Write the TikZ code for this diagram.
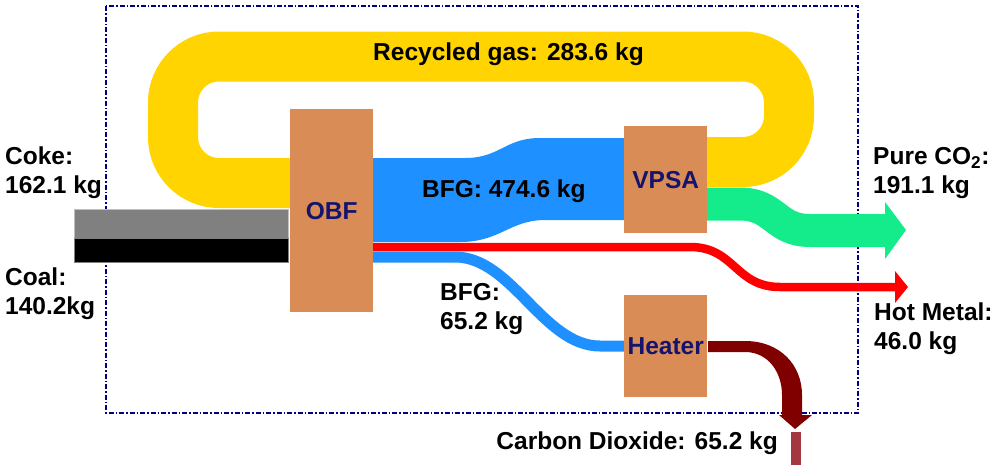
\documentclass[tikz,border=0pt]{standalone}
\usepackage{fontspec}
\setmainfont{Liberation Sans}
\definecolor{boxorange}{RGB}{218,140,86}
\definecolor{boxtext}{RGB}{20,20,110}
\definecolor{gasyellow}{RGB}{255,212,0}
\definecolor{bfgblue}{RGB}{30,144,255}
\definecolor{co2green}{RGB}{20,236,140}
\definecolor{hotred}{RGB}{255,0,0}
\definecolor{fluemaroon}{RGB}{128,0,0}
\definecolor{stubred}{RGB}{165,55,65}
\definecolor{framenavy}{RGB}{0,0,128}

\begin{document}
\begin{tikzpicture}[x=1pt,y=-1pt]
\tikzstyle{every node}+=[inner sep=0pt]
\tikzstyle{unit}=[fill=boxorange, text=boxtext, anchor=north west, font=\fontsize{24.5}{29}\selectfont\bfseries]
\tikzstyle{bar}=[anchor=north west, minimum width=214pt, minimum height=24pt, line width=1pt]
\tikzstyle{flowtext}=[anchor=north west, align=left, font=\fontsize{24.5}{29}\selectfont\bfseries]
\useasboundingbox (0,0) rectangle (1000,469);
% system boundary
\draw [framenavy, line width=1.6pt, dash pattern=on 5pt off 2pt on 1.5pt off 2pt] (106,6) rectangle (858,413);
% recycled gas loop
\draw [gasyellow, line width=50pt, rounded corners=46pt] (290,183) -- (173,183) -- (173,56.5) -- (789,56.5) -- (789,162) -- (707,162);
% BFG to VPSA
\fill [bfgblue] (373,158) -- (465,158) .. controls (500,158) and (505,138) .. (540,138) -- (624,138) -- (624,220) -- (545,220) .. controls (510,220) and (500,242) .. (460,242) -- (373,242) -- cycle;
% pure CO2
\draw [co2green, line width=33pt] (707,204) -- (740,204) .. controls (775,204) and (775,230.5) .. (810,230.5) -- (886,230.5);
\fill [co2green] (885,202) -- (906,230) -- (885,259) -- cycle;
% hot metal
\draw [hotred, line width=8.5pt] (373,247) -- (690,247) .. controls (735,247) and (735,287) .. (780,287) -- (896,287);
\fill [hotred] (895,271) -- (908,287) -- (895,303) -- cycle;
% BFG to heater
\draw [bfgblue, line width=11pt] (373,257) -- (455,257) .. controls (512,257) and (543,346) .. (600,346) -- (625,346);
% carbon dioxide
\fill [fluemaroon] (708,341) -- (745,341) .. controls (780,341) and (802,365) .. (802,395) -- (802,415) -- (812,415) -- (795,429) -- (779,415) -- (782,415) -- (782,395) .. controls (782,372) and (768,352) .. (745,352) -- (708,352) -- cycle;
\fill [stubred] (791,432) rectangle (801,465);
% feeds
\node [bar, fill=gray, draw=lightgray, minimum height=29pt] (cokebar) at (74,209) {};
\node [bar, fill=black, draw=gray] (coalbar) at (74,238) {};
% units
\node [unit, minimum width=83pt, minimum height=203pt] (obf) at (290,109) {OBF};
\node [unit, minimum width=83pt, minimum height=107pt] (vpsa) at (624,126) {VPSA};
\node [unit, minimum width=83pt, minimum height=102pt] (heater) at (624,295) {Heater};
% labels
\node [flowtext] (coke) at (5,147) {Coke:\\162.1 kg};
\node [flowtext] (coal) at (5,268) {Coal:\\140.2kg};
\node [flowtext] (recycled) at (373,43) {Recycled gas: 283.6 kg};
\node [flowtext] (bfgmain) at (422,180) {BFG: 474.6 kg};
\node [flowtext] (bfgheater) at (440,283) {BFG:\\65.2 kg};
\node [flowtext] (pureco2) at (873,147) {Pure CO\textsubscript{2}:\\191.1 kg};
\node [flowtext] (hotmetal) at (874,303) {Hot Metal:\\46.0 kg};
\node [flowtext, anchor=north east] (carbon) at (778,432) {Carbon Dioxide: 65.2 kg};
\end{tikzpicture}
\end{document}
